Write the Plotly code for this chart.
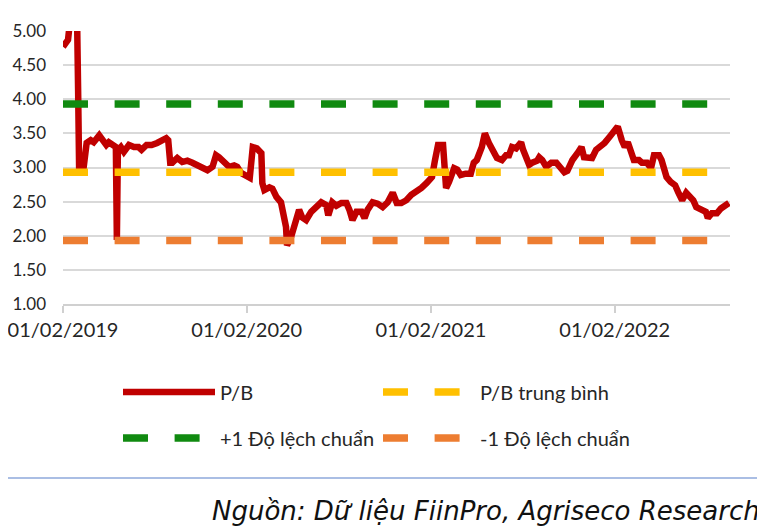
import plotly.graph_objects as go

# ---- data ----
dates = [
    "2019-02-01", "2019-02-07", "2019-02-11", "2019-02-15", "2019-02-27", "2019-03-01", "2019-03-03", "2019-03-05",
    "2019-03-14", "2019-03-20", "2019-03-28", "2019-04-03", "2019-04-14", "2019-04-20", "2019-04-28", "2019-05-03",
    "2019-05-13", "2019-05-17", "2019-05-19", "2019-05-21", "2019-05-27", "2019-06-02", "2019-06-12", "2019-06-22",
    "2019-07-01", "2019-07-07", "2019-07-17", "2019-07-27", "2019-08-07", "2019-08-15", "2019-08-25", "2019-08-29",
    "2019-09-02", "2019-09-06", "2019-09-16", "2019-09-26", "2019-10-06", "2019-10-16", "2019-10-26", "2019-11-05",
    "2019-11-15", "2019-11-25", "2019-12-02", "2019-12-08", "2019-12-18", "2019-12-28", "2020-01-07", "2020-01-13",
    "2020-01-21", "2020-02-01", "2020-02-07", "2020-02-13", "2020-02-21", "2020-03-01", "2020-03-03", "2020-03-07",
    "2020-03-17", "2020-03-23", "2020-03-31", "2020-04-09", "2020-04-15", "2020-04-19", "2020-04-21", "2020-04-29",
    "2020-05-09", "2020-05-15", "2020-05-21", "2020-05-29", "2020-06-08", "2020-06-18", "2020-06-28", "2020-07-08",
    "2020-07-12", "2020-07-20", "2020-07-28", "2020-08-07", "2020-08-17", "2020-08-23", "2020-08-29", "2020-09-06",
    "2020-09-16", "2020-09-22", "2020-09-28", "2020-10-08", "2020-10-18", "2020-10-28", "2020-11-07", "2020-11-17",
    "2020-11-25", "2020-12-04", "2020-12-14", "2020-12-24", "2021-01-03", "2021-01-13", "2021-01-23", "2021-02-03",
    "2021-02-09", "2021-02-15", "2021-02-25", "2021-03-01", "2021-03-03", "2021-03-09", "2021-03-19", "2021-03-25",
    "2021-04-01", "2021-04-11", "2021-04-21", "2021-04-27", "2021-05-03", "2021-05-13", "2021-05-19", "2021-05-27",
    "2021-06-02", "2021-06-12", "2021-06-22", "2021-06-30", "2021-07-06", "2021-07-12", "2021-07-20", "2021-07-30",
    "2021-08-03", "2021-08-09", "2021-08-15", "2021-08-21", "2021-08-31", "2021-09-04", "2021-09-10", "2021-09-18",
    "2021-09-28", "2021-10-08", "2021-10-18", "2021-10-24", "2021-10-30", "2021-11-09", "2021-11-19", "2021-11-27",
    "2021-12-02", "2021-12-12", "2021-12-18", "2021-12-26", "2022-01-02", "2022-01-12", "2022-01-22", "2022-01-28",
    "2022-02-07", "2022-02-15", "2022-02-21", "2022-02-27", "2022-03-07", "2022-03-11", "2022-03-21", "2022-03-27",
    "2022-04-06", "2022-04-14", "2022-04-20", "2022-04-30", "2022-05-05", "2022-05-15", "2022-05-23", "2022-06-01",
    "2022-06-07", "2022-06-15", "2022-06-23", "2022-07-01", "2022-07-07", "2022-07-13", "2022-07-23", "2022-08-01",
    "2022-08-05", "2022-08-13", "2022-08-23", "2022-08-31", "2022-09-10", "2022-09-16",
]
pb = [
    4.77, 4.82, 4.87, 5.15, 5.15, 5.15, 4.15, 3.00,
    3.00, 3.36, 3.40, 3.37, 3.47, 3.40, 3.33, 3.37,
    3.33, 3.30, 1.94, 3.25, 3.30, 3.23, 3.33, 3.30,
    3.30, 3.26, 3.33, 3.33, 3.36, 3.38, 3.43, 3.40,
    3.07, 3.07, 3.14, 3.08, 3.10, 3.07, 3.03, 3.01,
    2.96, 3.01, 3.18, 3.15, 3.08, 3.01, 3.03, 3.01,
    2.92, 2.86, 2.85, 3.30, 3.28, 3.21, 2.77, 2.67,
    2.71, 2.69, 2.57, 2.49, 2.27, 2.13, 1.86, 1.98,
    2.23, 2.38, 2.27, 2.23, 2.35, 2.42, 2.49, 2.45,
    2.30, 2.49, 2.44, 2.48, 2.48, 2.38, 2.23, 2.35,
    2.35, 2.26, 2.38, 2.49, 2.47, 2.42, 2.49, 2.63,
    2.48, 2.48, 2.52, 2.60, 2.64, 2.70, 2.77, 2.86,
    3.11, 3.33, 3.33, 2.96, 2.70, 2.79, 2.99, 2.97,
    2.89, 2.91, 2.91, 3.07, 3.11, 3.30, 3.50, 3.36,
    3.26, 3.14, 3.11, 3.18, 3.18, 3.30, 3.28, 3.37,
    3.26, 3.11, 3.04, 3.07, 3.10, 3.15, 3.11, 3.01,
    3.07, 3.07, 2.99, 2.93, 2.95, 3.11, 3.21, 3.30,
    3.15, 3.15, 3.14, 3.26, 3.30, 3.36, 3.45, 3.50,
    3.60, 3.40, 3.30, 3.37, 3.23, 3.11, 3.11, 3.07,
    3.07, 2.99, 3.18, 3.18, 3.11, 2.86, 2.79, 2.74,
    2.64, 2.52, 2.63, 2.57, 2.52, 2.42, 2.38, 2.35,
    2.26, 2.33, 2.33, 2.40, 2.45, 2.48,
]
pb_mean = 2.93
pb_plus_sd = 3.93
pb_minus_sd = 1.93

tick_dates = ["2019-02-01", "2020-02-01", "2021-02-01", "2022-02-01"]
tick_labels = ["01/02/2019", "01/02/2020", "01/02/2021", "01/02/2022"]
y_ticks = [1.0, 1.5, 2.0, 2.5, 3.0, 3.5, 4.0, 4.5, 5.0]

series_names = ["P/B", "P/B trung bình", "+1 Độ lệch chuẩn", "-1 Độ lệch chuẩn"]
source_text = "Nguồn: Dữ liệu FiinPro, Agriseco Research"

FONT = "Lato"
TXT = "#262626"
W, H = 757, 523          # page body has an 8px margin
OFF = 8                  # shift between reference pixels and figure pixels
line_span = [dates[0], dates[-1]]
dash = "25px,26.6px"

# plot-area geometry in figure pixels
PL, PR, PT, PB_ = 63 - OFF, 730 - OFF, 31 - OFF, 304 - OFF
PW, PH = PR - PL, PB_ - PT


def px_x(x):  # reference pixel -> paper x
    return (x - OFF - PL) / PW


def px_y(y):  # reference pixel -> paper y
    return (PB_ - (y - OFF)) / PH


fig = go.Figure()
fig.add_trace(go.Scatter(x=dates, y=pb, mode="lines", name=series_names[0],
                         line=dict(color="#C00000", width=6.5), legend="legend"))
fig.add_trace(go.Scatter(x=line_span, y=[pb_mean] * 2, mode="lines", name=series_names[1],
                         line=dict(color="#FFC000", width=7.5, dash=dash), legend="legend"))
fig.add_trace(go.Scatter(x=line_span, y=[pb_plus_sd] * 2, mode="lines", name=series_names[2],
                         line=dict(color="#108A10", width=7.5, dash=dash), legend="legend2"))
fig.add_trace(go.Scatter(x=line_span, y=[pb_minus_sd] * 2, mode="lines", name=series_names[3],
                         line=dict(color="#ED7D31", width=7.5, dash=dash), legend="legend2"))

legend_common = dict(orientation="h", xref="container", yref="container",
                     x=(118 - OFF) / W, xanchor="left", yanchor="middle",
                     font=dict(family=FONT, size=20, color=TXT),
                     itemwidth=92, entrywidth=153, bgcolor="rgba(0,0,0,0)",
                     traceorder="normal")

fig.update_layout(
    width=W, height=H,
    margin=dict(l=PL, r=W - PR, t=PT, b=H - PB_, autoexpand=False),
    paper_bgcolor="white", plot_bgcolor="white",
    font=dict(family=FONT, color=TXT),
    showlegend=True,
    legend=dict(**legend_common, y=1 - (392 - OFF) / H),
    legend2=dict(**legend_common, y=1 - (438 - OFF) / H),
    xaxis=dict(
        type="date", range=["2019-02-01", "2022-09-18"], automargin=False,
        tickvals=tick_dates, ticktext=tick_labels, ticklabeloverflow="allow",
        showgrid=False, showline=True, linecolor="#D0D0D0", linewidth=1.5,
        ticks="outside", ticklen=7, tickcolor="#D0D0D0", tickwidth=1.5,
        tickfont=dict(family=FONT, size=20, color=TXT),
        zeroline=False,
    ),
    yaxis=dict(
        range=[1, 5], tickvals=y_ticks, tickformat=".2f", automargin=False,
        ticklabeloverflow="allow",
        showgrid=True, gridcolor="#D9D9D9", gridwidth=1.5,
        showline=False, zeroline=False, ticks="",
        ticklabelstandoff=16,
        tickfont=dict(family=FONT, size=17, color=TXT),
    ),
    annotations=[dict(
        text=source_text, xref="paper", yref="paper",
        x=px_x(762), y=px_y(511), xanchor="right", yanchor="middle",
        showarrow=False, font=dict(family="DejaVu Sans", size=26, color="#111111", style="italic"),
    )],
    shapes=[
        dict(type="line", xref="paper", yref="paper",
             x0=px_x(0), x1=px_x(763), y0=px_y(478), y1=px_y(478),
             line=dict(color="#8EA9DB", width=1.5)),
        dict(type="line", xref="paper", yref="paper",
             x0=px_x(762), x1=px_x(762), y0=px_y(0), y1=px_y(478),
             line=dict(color="#8EA9DB", width=1.5)),
    ],
)

fig.write_html("out.html")
